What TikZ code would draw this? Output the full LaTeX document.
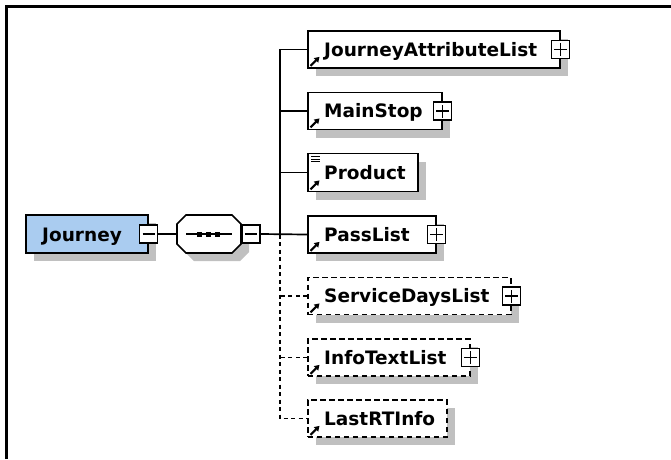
\documentclass[tikz,border=0pt]{standalone}
\usepackage{fontspec}
\setmainfont{DejaVu Sans}
\usetikzlibrary{shadows,arrows.meta}

\definecolor{shadowgray}{RGB}{192,192,192}
\definecolor{jblue}{RGB}{170,204,240}

% small reference arrow in the lower left corner of an element box
\newcommand\refarrow[1]{%
  \draw[refarr] ([xshift=3.5pt,yshift=3pt]#1.south west) -- ++(9,-9);}

\tikzset{
  elem/.style={draw, line width=1.7pt, fill=white, minimum height=37pt,
    inner sep=0pt, anchor=west,
    drop shadow={shadow xshift=8pt, shadow yshift=-8pt, opacity=1, fill=shadowgray}},
  optelem/.style={elem, dash pattern=on 5.5pt off 3.5pt},
  lbl/.style={anchor=base west, inner sep=0pt, font=\fontsize{18.5}{20}\selectfont\bfseries},
  pmbox/.style={draw, line width=1.3pt, fill=white, minimum width=18pt,
    minimum height=18pt, inner sep=0pt},
  plusbox/.style={pmbox, path picture={
    \draw[line width=1.3pt]
      ([xshift=-6.5pt]path picture bounding box.center) -- ([xshift=6.5pt]path picture bounding box.center)
      ([yshift=-6.5pt]path picture bounding box.center) -- ([yshift=6.5pt]path picture bounding box.center);}},
  minusbox/.style={pmbox, path picture={
    \draw[line width=1.3pt]
      ([xshift=-6pt]path picture bounding box.center) -- ([xshift=6pt]path picture bounding box.center);}},
  conn/.style={line width=1.7pt},
  optconn/.style={line width=1.7pt, dash pattern=on 4pt off 3.5pt},
  refarr/.style={line width=2pt, -{Triangle[length=5pt,width=6pt]}},
}

\begin{document}
\begin{tikzpicture}[x=1pt,y=-1pt]
\useasboundingbox (0,0) rectangle (671,459);
\fill[white] (0,0) rectangle (671,459);

% frame
\draw[line width=3pt] (6,459) -- (6,6) -- (671,6);

% root element
\node[elem, fill=jblue, minimum width=122pt, minimum height=38pt] (journey) at (25,234) {};
\node[lbl] (journeyt) at (42,241) {Journey};
\node[minusbox] (journeym) at (journey.east) {};

% sequence compositor
\node[inner sep=0pt, minimum width=64pt, minimum height=38pt] (seq) at (209,234) {};
\fill[shadowgray] (194,223) -- (240,223) -- (249,232) -- (249,252) -- (240,261)
  -- (194,261) -- (185,252) -- (185,232) -- cycle;
\draw[line width=1.7pt, fill=white] (186,215) -- (232,215) -- (241,224) -- (241,244)
  -- (232,253) -- (186,253) -- (177,244) -- (177,224) -- cycle;
\draw[line width=1.5pt] (186,234) -- (232,234);
\fill (196.7,231.5) rectangle +(5,5);
\fill (205.8,231.5) rectangle +(5,5);
\fill (215,231.5) rectangle +(5,5);
\node[minusbox, anchor=west] (seqm) at (seq.east) {};

% child elements
\node[elem, minimum width=252pt] (jal) at (307,49.5) {};
\node[lbl] (jalt) at (324,56) {JourneyAttributeList};
\node[plusbox] (jalp) at (jal.east) {};
\refarrow{jal}

\node[elem, minimum width=134pt] (ms) at (307,111) {};
\node[lbl] (mst) at (324,117.5) {MainStop};
\node[plusbox] (msp) at (ms.east) {};
\refarrow{ms}

\node[elem, minimum width=110pt, minimum height=38pt] (prod) at (307,172.5) {};
\node[lbl] (prodt) at (324,179) {Product};
\refarrow{prod}
\draw[line width=1pt]
  ([xshift=4pt,yshift=-4pt]prod.north west) -- ++(9,0)
  ([xshift=4pt,yshift=-6.5pt]prod.north west) -- ++(9,0)
  ([xshift=4pt,yshift=-9pt]prod.north west) -- ++(9,0);

\node[elem, minimum width=128pt] (pl) at (307,234.5) {};
\node[lbl] (plt) at (324,241) {PassList};
\node[plusbox] (plp) at (pl.east) {};
\refarrow{pl}

\node[optelem, minimum width=203pt] (sdl) at (307,296) {};
\node[lbl] (sdlt) at (324,302.5) {ServiceDaysList};
\node[plusbox] (sdlp) at (sdl.east) {};
\refarrow{sdl}

\node[optelem, minimum width=162pt] (itl) at (307,357.5) {};
\node[lbl] (itlt) at (324,364) {InfoTextList};
\node[plusbox] (itlp) at (itl.east) {};
\refarrow{itl}

\node[optelem, minimum width=139pt] (lrt) at (307,418.5) {};
\node[lbl] (lrtt) at (324,425) {LastRTInfo};
\refarrow{lrt}

% connectors
\coordinate (spinetop) at (280,49.5);
\coordinate (spinemid) at (280,234.5);
\coordinate (spinebot) at (280,418.5);
\draw[conn] (journeym.east) -- (seq.west);
\draw[conn] (seqm.east) -- (pl.west);
\draw[conn] (jal.west) -- (spinetop) -- (spinemid);
\draw[conn] (ms.west) -- (ms.west -| spinetop);
\draw[conn] (prod.west) -- (prod.west -| spinetop);
\draw[optconn] (spinemid) -- (spinebot) -- (lrt.west);
\draw[optconn] (sdl.west) -- (sdl.west -| spinetop);
\draw[optconn] (itl.west) -- (itl.west -| spinetop);
\end{tikzpicture}
\end{document}
